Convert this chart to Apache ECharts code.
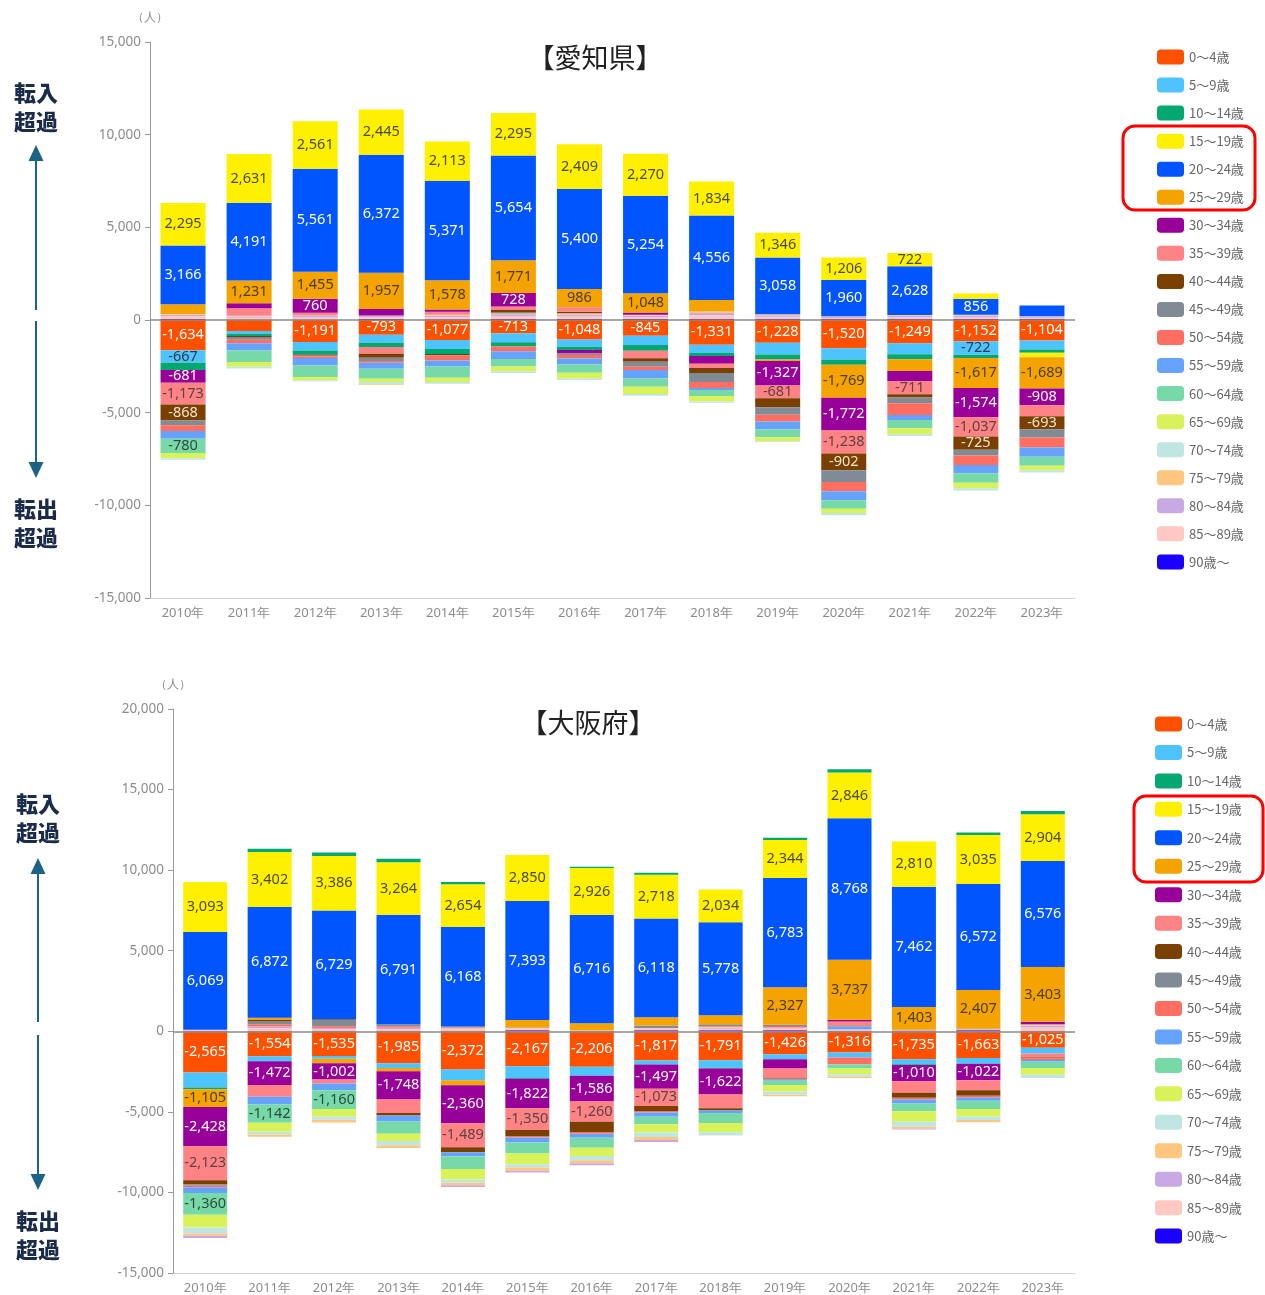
<!DOCTYPE html>
<html>
<head>
<meta charset="utf-8">
<script src="https://cdn.jsdelivr.net/npm/echarts/dist/echarts.min.js"></script>
<style>
html,body{margin:0;padding:0;background:#fff;}
#chart{width:1265px;height:1295px;}
</style>
</head>
<body>
<div id="chart"></div>
<script>
// Years on the category axis
const YEARS = ['2010年','2011年','2012年','2013年','2014年','2015年','2016年','2017年','2018年','2019年','2020年','2021年','2022年','2023年'];

// Five-year age groups (legend order)
const AGE_GROUPS = ['0～4歳','5～9歳','10～14歳','15～19歳','20～24歳','25～29歳','30～34歳','35～39歳','40～44歳','45～49歳','50～54歳','55～59歳','60～64歳','65～69歳','70～74歳','75～79歳','80～84歳','85～89歳','90歳～'];
const AGE_COLORS = ['#ff5000','#4dc3ff','#03a871','#fff000','#0055ff','#f5a300','#990099','#ff8285','#7b3f00','#808b96','#ff6e61','#66a3ff','#77d9a8','#daf25a','#bfe6e3','#ffc67f','#c9a9e3','#ffc9c1','#1a00ff'];
const LABEL_COLORS = ['#ffffff','#2e3a48','#ffffff','#4a4a2a','#ffffff','#4a3d1a','#ffffff','#5a4444','#f3e6cf','#ffffff','#ffffff','#ffffff','#2f4a3f','#333','#333','#333','#333','#333','#ffffff'];

// 愛知県: net migration (転入超過 +, 転出超過 -) by age group, 2010-2023
const aichi0to4   = [-1634,-590,-1191,-793,-1077,-713,-1048,-845,-1331,-1228,-1520,-1249,-1152,-1104];
const aichi5to9   = [-667,-160,-450,-430,-485,-485,-395,-505,-450,-630,-630,-595,-722,-485];
const aichi10to14 = [-400,-110,-200,-235,-270,-235,-180,-305,-160,-270,-270,-270,-180,-180];
const aichi15to19 = [2295,2631,2561,2445,2113,2295,2409,2270,1834,1346,1206,722,280,-235];
const aichi20to24 = [3166,4191,5561,6372,5371,5654,5400,5254,4556,3058,1960,2628,856,580];
const aichi25to29 = [520,1231,1455,1957,1578,1771,986,1048,620,-80,-1769,-640,-1617,-1689];
const aichi30to34 = [-681,270,760,350,130,728,-180,120,-415,-1327,-1772,-540,-1574,-908];
const aichi35to39 = [-1173,400,150,-360,150,180,235,-415,-235,-681,-1238,-711,-1037,-595];
const aichi40to44 = [-868,-60,-30,-215,-50,145,90,-180,-270,-485,-902,-180,-725,-693];
const aichi45to49 = [-250,-150,-80,-180,-50,50,-80,-270,-485,-415,-640,-305,-305,-450];
const aichi50to54 = [-320,-180,-100,-90,-250,-250,-190,-180,-325,-360,-505,-630,-505,-540];
const aichi55to59 = [-410,-400,-400,-325,-325,-415,-325,-450,-100,-430,-485,-270,-450,-505];
const aichi60to64 = [-780,-620,-620,-540,-610,-415,-450,-450,-325,-415,-450,-450,-520,-485];
const aichi65to69 = [-270,-250,-180,-180,-235,-250,-305,-395,-305,-215,-235,-325,-290,-235];
const aichi70to74 = [-90,-100,-60,-100,-90,-90,-90,-90,-60,-50,-125,-90,-125,-125];
const aichi75to79 = [40,40,30,-50,50,40,60,40,80,50,30,40,50,30];
const aichi80to84 = [80,70,80,80,80,100,100,80,120,90,60,80,80,50];
const aichi85to89 = [150,90,100,100,120,150,150,100,200,100,60,100,100,60];
const aichi90plus = [60,30,30,60,40,60,50,60,60,70,50,50,60,60];

// 大阪府: net migration by age group, 2010-2023
const osaka0to4   = [-2565,-1554,-1535,-1985,-2372,-2167,-2206,-1817,-1791,-1426,-1316,-1735,-1663,-1025];
const osaka5to9   = [-930,-310,-165,-290,-665,-725,-560,-250,-475,-310,-310,-310,-350,-350];
const osaka10to14 = [-100,205,205,205,145,-60,80,125,-40,145,205,-40,165,205];
const osaka15to19 = [3093,3402,3386,3264,2654,2850,2926,2718,2034,2344,2846,2810,3035,2904];
const osaka20to24 = [6069,6872,6729,6791,6168,7393,6716,6118,5778,6783,8768,7462,6572,6576];
const osaka25to29 = [-1105,145,-290,-205,-310,455,415,515,560,2327,3737,1403,2407,3403];
const osaka30to34 = [-2428,-1472,-1002,-1748,-2360,-1822,-1586,-1497,-1622,-580,100,-1010,-1022,145];
const osaka35to39 = [-2123,-725,-250,-850,-1489,-1350,-1260,-1073,-850,-620,250,-725,-620,-250];
const osaka40to44 = [-250,60,60,-145,-310,-370,-640,-310,-145,-60,30,-310,-350,-60];
const osaka45to49 = [-80,200,400,120,60,30,20,150,100,80,40,30,20,20];
const osaka50to54 = [-100,150,120,100,50,-100,-100,-100,50,60,-415,-100,-100,-100];
const osaka55to59 = [-350,-475,-415,-370,-250,-315,-250,-250,-145,-80,150,-250,-200,-100];
const osaka60to64 = [-1360,-1142,-1160,-765,-785,-680,-620,-475,-620,-250,-270,-475,-515,-390];
const osaka65to69 = [-780,-560,-475,-455,-660,-660,-515,-515,-580,-415,-350,-665,-475,-415];
const osaka70to74 = [-370,-165,-205,-270,-205,-205,-270,-270,-205,-205,-165,-310,-205,-205];
const osaka75to79 = [-145,-145,-165,-165,-150,-205,-185,-185,60,-80,-80,-100,-145,80];
const osaka80to84 = [-145,100,60,80,-100,-100,-125,-125,60,60,40,-65,40,100];
const osaka85to89 = [60,150,100,100,150,150,40,150,100,150,60,40,40,200];
const osaka90plus = [40,40,30,40,40,60,20,60,60,60,40,30,60,40];

const AICHI_ROWS = [aichi0to4,aichi5to9,aichi10to14,aichi15to19,aichi20to24,aichi25to29,aichi30to34,aichi35to39,aichi40to44,aichi45to49,aichi50to54,aichi55to59,aichi60to64,aichi65to69,aichi70to74,aichi75to79,aichi80to84,aichi85to89,aichi90plus];
const OSAKA_ROWS = [osaka0to4,osaka5to9,osaka10to14,osaka15to19,osaka20to24,osaka25to29,osaka30to34,osaka35to39,osaka40to44,osaka45to49,osaka50to54,osaka55to59,osaka60to64,osaka65to69,osaka70to74,osaka75to79,osaka80to84,osaka85to89,osaka90plus];

function fmt(v) {
  return String(v).replace(/\B(?=(\d{3})+(?!\d))/g, ',');
}

// Inflows stack upward with the oldest group nearest zero; outflows stack
// downward with the youngest group nearest zero. Two overlapping stacks do this.
function buildSeries(rows, axisIdx, minLabel, barW) {
  const list = [];
  const make = (i, data, stack) => ({
    name: AGE_GROUPS[i],
    type: 'bar',
    stack: stack,
    xAxisIndex: axisIdx,
    yAxisIndex: axisIdx,
    data: data,
    barWidth: barW,
    barGap: '-100%',
    itemStyle: { color: AGE_COLORS[i] },
    emphasis: { disabled: true },
    label: {
      show: true,
      position: 'inside',
      fontFamily: 'Noto Sans',
      fontSize: 14.5,
      color: LABEL_COLORS[i],
      formatter: p => (typeof p.value === 'number' && Math.abs(p.value) >= minLabel) ? fmt(p.value) : ''
    }
  });
  for (let i = rows.length - 1; i >= 0; i--) {
    list.push(make(i, rows[i].map(v => v > 0 ? v : '-'), 'in' + axisIdx));
  }
  for (let i = 0; i < rows.length; i++) {
    list.push(make(i, rows[i].map(v => v < 0 ? v : '-'), 'out' + axisIdx));
  }
  list[list.length - 1].markLine = {
    silent: true,
    symbol: 'none',
    label: { show: false },
    lineStyle: { color: '#8a8a8a', type: 'solid', width: 1.5 },
    data: [{ yAxis: 0 }],
    z: 10
  };
  return list;
}

function yAxisFor(idx, max) {
  return {
    gridIndex: idx,
    type: 'value',
    min: -15000,
    max: max,
    interval: 5000,
    name: '（人）',
    nameLocation: 'end',
    nameGap: 18,
    nameTextStyle: { color: '#8c8c8c', fontSize: 12, align: 'center' },
    axisLine: { show: true, lineStyle: { color: '#9a9a9a' } },
    axisTick: { show: true, length: 5, lineStyle: { color: '#9a9a9a' } },
    axisLabel: { color: '#8c8c8c', fontSize: 13.5, fontFamily: 'Noto Sans', margin: 9, formatter: v => fmt(v) },
    splitLine: { show: false }
  };
}

function xAxisFor(idx) {
  return {
    gridIndex: idx,
    type: 'category',
    data: YEARS,
    axisLine: { onZero: false, lineStyle: { color: '#cfcfcf' } },
    axisTick: { show: false },
    axisLabel: { color: '#8c8c8c', fontSize: 13, fontFamily: 'Noto Sans', margin: 9 }
  };
}

function legendFor(left, top, gap) {
  return {
    data: AGE_GROUPS,
    orient: 'vertical',
    left: left,
    top: top,
    padding: 0,
    itemWidth: 27,
    itemHeight: 15,
    itemGap: gap,
    icon: 'roundRect',
    textStyle: { color: '#666', fontSize: 13, fontFamily: 'Noto Sans CJK JP' }
  };
}

// Side caption with the up/down arrow between 転入超過 and 転出超過
function sideCaption(x, topY, upTip, upEnd, downStart, downTip, bottomY) {
  const color = '#1d6383';
  const ink = '#1b2b4b';
  const txt = (s, y) => ({
    type: 'text',
    x: x, y: y,
    style: { text: s, fill: ink, font: '900 22px "Noto Sans CJK JP"', textAlign: 'center', textVerticalAlign: 'middle' }
  });
  return [
    txt('転入', topY), txt('超過', topY + 29),
    { type: 'line', shape: { x1: x, y1: upTip + 14, x2: x, y2: upEnd }, style: { stroke: color, lineWidth: 2 } },
    { type: 'polygon', shape: { points: [[x, upTip], [x - 7.5, upTip + 16], [x + 7.5, upTip + 16]] }, style: { fill: color } },
    { type: 'line', shape: { x1: x, y1: downStart, x2: x, y2: downTip - 14 }, style: { stroke: color, lineWidth: 2 } },
    { type: 'polygon', shape: { points: [[x, downTip], [x - 7.5, downTip - 16], [x + 7.5, downTip - 16]] }, style: { fill: color } },
    txt('転出', bottomY), txt('超過', bottomY + 29)
  ];
}

const chart = echarts.init(document.getElementById('chart'), null, { renderer: 'canvas' });

const graphics = [
  { type: 'text', x: 595, y: 58, style: { text: '【愛知県】', fill: '#222', font: '27px "Noto Sans CJK JP"', textAlign: 'center', textVerticalAlign: 'middle' } },
  { type: 'text', x: 588, y: 723, style: { text: '【大阪府】', fill: '#222', font: '27px "Noto Sans CJK JP"', textAlign: 'center', textVerticalAlign: 'middle' } },
  { type: 'rect', shape: { x: 1123, y: 126, width: 132, height: 84, r: 12 }, style: { fill: 'none', stroke: '#ff0000', lineWidth: 3 } },
  { type: 'rect', shape: { x: 1134, y: 796, width: 129, height: 86, r: 12 }, style: { fill: 'none', stroke: '#ff0000', lineWidth: 3 } }
].concat(
  sideCaption(36, 93, 145, 310, 321, 478, 509),
  sideCaption(38, 804, 858, 1022, 1035, 1190, 1221)
);

chart.setOption({
  animation: false,
  backgroundColor: '#ffffff',
  textStyle: { fontFamily: 'Noto Sans' },
  grid: [
    { left: 150, top: 42, width: 925, height: 556, containLabel: false },
    { left: 173, top: 709, width: 902, height: 564, containLabel: false }
  ],
  legend: [legendFor(1157, 49.5, 13.05), legendFor(1155, 716.5, 13.45)],
  xAxis: [xAxisFor(0), xAxisFor(1)],
  yAxis: [yAxisFor(0, 15000), yAxisFor(1, 20000)],
  graphic: graphics,
  series: buildSeries(AICHI_ROWS, 0, 650, 45).concat(buildSeries(OSAKA_ROWS, 1, 1000, 44))
});
</script>
</body>
</html>
